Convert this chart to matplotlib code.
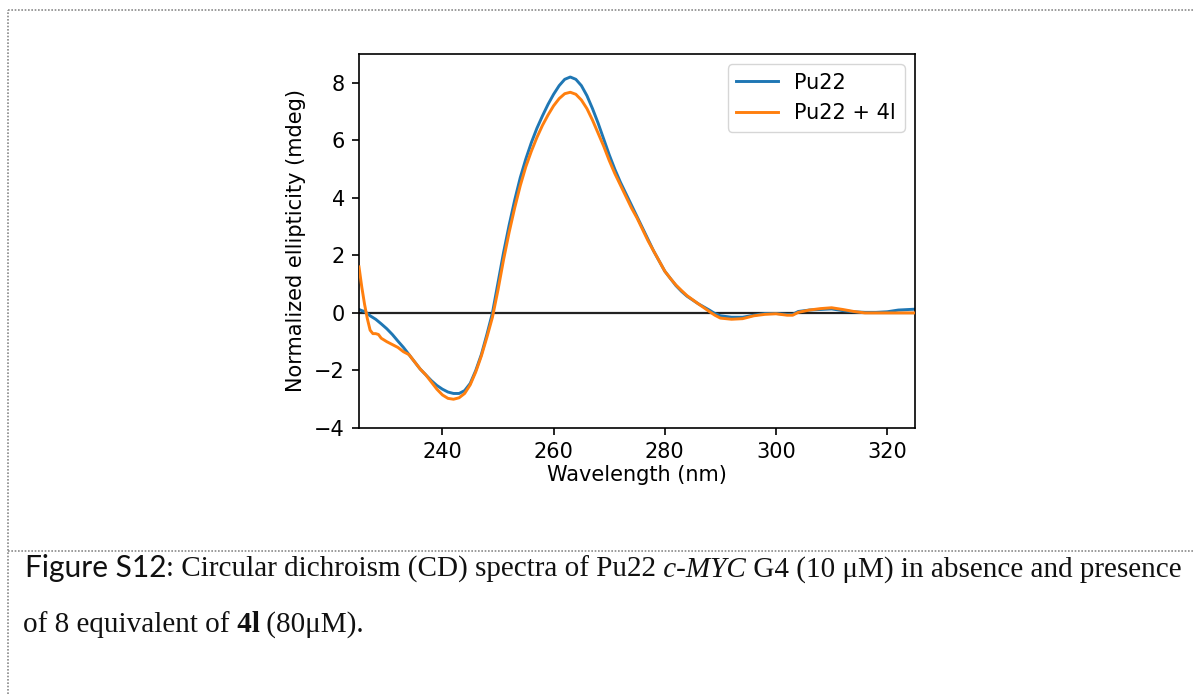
import matplotlib
matplotlib.use('Agg')
import matplotlib.pyplot as plt

# CD spectra (wavelength in nm, ellipticity in mdeg)
wavelength = [225, 225.5, 226, 226.5, 227, 227.5, 228, 228.5, 229, 230, 231, 232, 233, 234,
              235, 236, 237, 238, 239, 240, 241, 242, 243, 244, 245, 246, 247, 248, 249,
              250, 251, 252, 253, 254, 255, 256, 257, 258, 259, 260, 261, 262, 263, 264,
              265, 266, 267, 268, 269, 270, 271, 272, 273, 274, 275, 276, 277, 278, 279,
              280, 281, 282, 283, 284, 286, 288, 289, 290, 292, 294, 296, 298, 300, 302,
              303, 304, 306, 308, 310, 312, 314, 316, 318, 320, 322, 325]

pu22 = [0.12, 0.08, 0.05, -0.02, -0.1, -0.16, -0.22, -0.3, -0.38, -0.55, -0.75, -0.98, -1.2,
        -1.45, -1.7, -1.95, -2.15, -2.35, -2.52, -2.65, -2.75, -2.8, -2.8, -2.7, -2.45, -2.0,
        -1.45, -0.75, 0.0, 1.05, 2.1, 3.05, 3.92, 4.7, 5.35, 5.92, 6.42, 6.85, 7.25, 7.6, 7.9,
        8.12, 8.2, 8.12, 7.9, 7.55, 7.1, 6.6, 6.05, 5.5, 5.0, 4.55, 4.15, 3.75, 3.35, 2.95,
        2.55, 2.15, 1.8, 1.45, 1.2, 0.95, 0.75, 0.58, 0.32, 0.1, -0.02, -0.1, -0.15, -0.15,
        -0.08, -0.02, -0.02, -0.05, -0.05, 0.05, 0.1, 0.12, 0.14, 0.08, 0.04, 0.02, 0.02,
        0.04, 0.1, 0.13]

pu22_4l = [1.6, 0.9, 0.3, -0.2, -0.6, -0.72, -0.72, -0.75, -0.88, -1.0, -1.1, -1.2, -1.35,
           -1.45, -1.7, -1.95, -2.15, -2.4, -2.65, -2.85, -2.97, -3.0, -2.95, -2.8, -2.5,
           -2.05, -1.5, -0.85, -0.15, 0.8, 1.85, 2.8, 3.65, 4.42, 5.08, 5.62, 6.1, 6.52, 6.88,
           7.2, 7.45, 7.62, 7.67, 7.6, 7.4, 7.1, 6.7, 6.25, 5.8, 5.3, 4.85, 4.45, 4.05, 3.65,
           3.3, 2.9, 2.5, 2.15, 1.8, 1.45, 1.2, 0.97, 0.78, 0.6, 0.32, 0.05, -0.08, -0.18,
           -0.22, -0.2, -0.1, -0.05, -0.03, -0.08, -0.08, 0.02, 0.1, 0.15, 0.18, 0.12, 0.05,
           0.0, 0.0, 0.0, 0.0, 0.0]

labels = ['Pu22', 'Pu22 + 4l']
xticks = [240, 260, 280, 300, 320]
yticks = [-4, -2, 0, 2, 4, 6, 8]

fs = 15
plt.rcParams['font.family'] = 'DejaVu Sans'

fig = plt.figure(figsize=(11.94, 6.94), dpi=100)

# page decoration: dotted frame lines of the document
dot = dict(color='#8a8a8a', lw=1.2, ls=(0, (1, 1)))
fig.add_artist(plt.Line2D([8 / 1194, 1], [1 - 10 / 694, 1 - 10 / 694], **dot))
fig.add_artist(plt.Line2D([8 / 1194, 8 / 1194], [0, 1 - 10 / 694], **dot))
fig.add_artist(plt.Line2D([8 / 1194, 1], [1 - 551 / 694, 1 - 551 / 694], **dot))

# CD plot
ax = fig.add_axes([359 / 1194, 1 - 428 / 694, 556 / 1194, 374 / 694])
ax.axhline(0, color='#222222', lw=1.6, zorder=1)
ax.plot(wavelength, pu22, color='#1f77b4', lw=2.1, label=labels[0], zorder=2)
ax.plot(wavelength, pu22_4l, color='#ff7f0e', lw=2.1, label=labels[1], zorder=3)
ax.set_xlim(225, 325)
ax.set_ylim(-4, 9)
ax.set_xticks(xticks)
ax.set_yticks(yticks)
ax.tick_params(labelsize=fs, length=5.2, width=1.2, pad=5)
for sp in ax.spines.values():
    sp.set_linewidth(1.2)
ax.set_xlabel('Wavelength (nm)', fontsize=fs, labelpad=2)
ax.set_ylabel('Normalized ellipticity (mdeg)', fontsize=fs, labelpad=6)
ax.legend(fontsize=fs, loc='upper right')

# caption, written piece by piece along each baseline
renderer = fig.canvas.get_renderer()


def put_line(x, y, pieces):
    for s, kw in pieces:
        t = fig.text(x, y, s, va='baseline', ha='left', **kw)
        x += t.get_window_extent(renderer).width / fig.bbox.width


serif = dict(family='Liberation Serif', fontsize=21, color='#111111')
put_line(25 / 1194, 1 - 577 / 694, [
    ('Figure S12', dict(family='Lato', fontsize=21.5, color='#111111')),
    (': Circular dichroism (CD) spectra of Pu22', serif),
    (' c-MYC', dict(serif, style='italic')),
    (' G4 (10 \u03bcM) in absence and presence', serif),
])
put_line(23 / 1194, 1 - 632 / 694, [
    ('of 8 equivalent of', serif),
    (' 4l', dict(serif, weight='bold')),
    (' (80\u03bcM).', serif),
])

fig.savefig('out.png', dpi=100)
